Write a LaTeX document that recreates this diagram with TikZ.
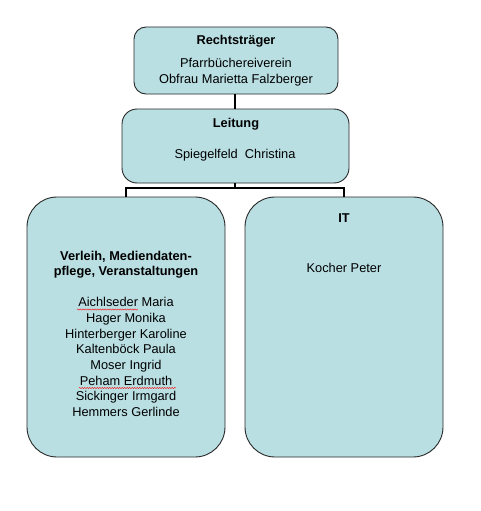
\documentclass[tikz,border=0pt]{standalone}
\usepackage{fontspec}
\setmainfont{Liberation Sans}
\usetikzlibrary{decorations.pathmorphing}
\definecolor{boxfill}{RGB}{185,223,227}
\definecolor{boxline}{RGB}{40,40,40}
\begin{document}
\begin{tikzpicture}[x=1pt,y=-1pt,
  orgbox/.style={draw=boxline,fill=boxfill,line width=0.9pt},
  lbl/.style={inner sep=0pt,align=center,font=\fontsize{12.8}{16}\selectfont},
  conn/.style={draw=black,line width=1.4pt},
  squig/.style={draw=red,line width=0.45pt,decorate,decoration={snake,amplitude=0.6pt,segment length=2.5pt}}]
\useasboundingbox (0,0) rectangle (481,511);
% boxes
\draw[orgbox,rounded corners=12pt] (134,27) rectangle (338,94);
\draw[orgbox,rounded corners=15pt] (122,109) rectangle (349,183);
\draw[orgbox,rounded corners=30pt] (27,197) rectangle (225,457);
\draw[orgbox,rounded corners=30pt] (245,197) rectangle (443,457);
\coordinate (rt) at (235,94);
\coordinate (lt) at (235,109);
\coordinate (lb) at (235,183);
\coordinate (j) at (235,188);
\coordinate (a) at (126,197);
\coordinate (b) at (344,197);
% connectors
\draw[conn] (rt) -- (lt);
\draw[conn] (lb) -- (j);
\draw[conn] (a) |- (j) -| (b);
% texts
\node[lbl,font=\fontsize{12.8}{15}\bfseries] (t1) at (236,41) {Rechtsträger};
\node[lbl,font=\fontsize{12.8}{16.5}\selectfont] (t2) at (236,72) {Pfarrbüchereiverein\\Obfrau Marietta Falzberger};
\node[lbl,font=\fontsize{12.8}{15}\bfseries] (t3) at (236,124) {Leitung};
\node[lbl] (t4) at (235,155) {Spiegelfeld\ \ Christina};
\node[lbl,font=\fontsize{12.8}{15.5}\bfseries] (t5) at (126,264.5) {Verleih, Mediendaten-\\pflege, Veranstaltungen};
\node[lbl,font=\fontsize{12.8}{15.7}\selectfont] (t6) at (126,357) {Aichlseder Maria\\Hager Monika\\Hinterberger Karoline\\Kaltenböck Paula\\Moser Ingrid\\Peham Erdmuth\\Sickinger Irmgard\\Hemmers Gerlinde};
\node[lbl,font=\fontsize{12.8}{15}\bfseries] (t7) at (344,218) {IT};
\node[lbl] (t8) at (344,268) {Kocher Peter};
% spell-check marks
\draw[squig] (77,309.5) -- (138,309.5);
\draw[squig] (79,388) -- (176,388);
\end{tikzpicture}
\end{document}
